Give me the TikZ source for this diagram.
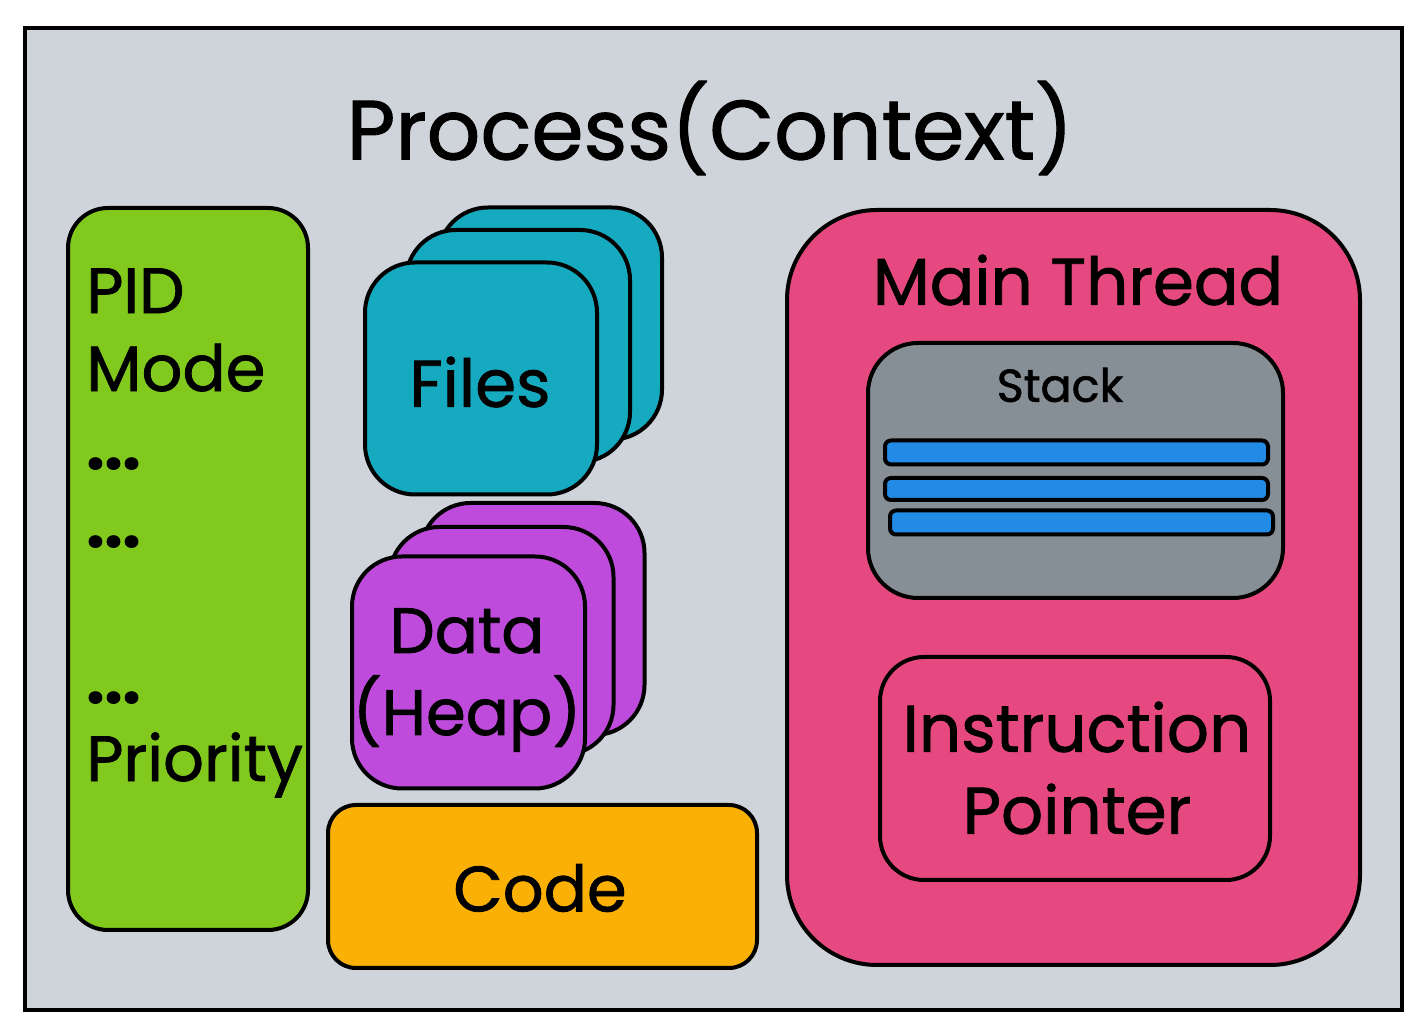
\documentclass[tikz,border=0pt]{standalone}
\usepackage{fontspec}
\setmainfont{Poppins}[FakeBold=1.2]
\usetikzlibrary{positioning}
\definecolor{procgray}{HTML}{CED4DA}
\definecolor{pidgreen}{HTML}{82C91E}
\definecolor{filesteal}{HTML}{15AABF}
\definecolor{heappurple}{HTML}{BE4BDB}
\definecolor{codeorange}{HTML}{FAB005}
\definecolor{threadpink}{HTML}{E64980}
\definecolor{stackgray}{HTML}{868E96}
\definecolor{barblue}{HTML}{228BE6}

\begin{document}
\begin{tikzpicture}[
  x=0.5pt, y=-0.5pt,
  box/.style={draw, line width=2pt, inner sep=0pt, rounded corners=22pt},
  card/.style={box, rounded corners=25pt, minimum width=112pt, minimum height=116pt},
  bar/.style={box, rounded corners=3pt, fill=barblue, minimum width=191.5pt, minimum height=12pt},
  lbl/.style={font=\fontsize{30}{41}\selectfont, align=center}
]
  \useasboundingbox (0,0) rectangle (1426,1036);

  % outer process frame
  \node[draw, line width=2pt, fill=procgray, minimum width=688.5pt, minimum height=491pt] (proc) at (713.5,519) {};
  \node[font=\fontsize{42}{50}\selectfont] (title) at (710,128) {Process(Context)};

  % process attributes
  \node[box, fill=pidgreen, minimum width=120pt, minimum height=361pt, rounded corners=20pt] (attrs) at (188,569) {};
  \node[lbl, font=\fontsize{32}{39}\selectfont, align=left, anchor=north west, inner sep=0pt] (attrtxt) at (86,268)
    {PID\\Mode\\{\bfseries...}\\{\bfseries...}\\\mbox{}\\{\bfseries...}\\Priority};

  % files
  \node[card, fill=filesteal] (files3) at (550,323.5) {};
  \node[card, fill=filesteal] (files2) at (518,346) {};
  \node[card, fill=filesteal, minimum width=116pt] (files1) at (481,378.5) {};
  \node[lbl, font=\fontsize{33}{41}\selectfont] (filestxt) at (480,382) {Files};

  % data / heap
  \node[card, fill=heappurple] (data3) at (532.5,619) {};
  \node[card, fill=heappurple, minimum height=114pt] (data2) at (501.5,641) {};
  \node[card, fill=heappurple, minimum width=116.5pt] (data1) at (468.5,672.5) {};
  \node[lbl, font=\fontsize{32}{41}\selectfont] (datatxt) at (467,680) {Data\\(Heap)};

  % code
  \node[box, fill=codeorange, rounded corners=14pt, minimum width=214.5pt, minimum height=81.5pt] (code) at (542.5,886.5) {};
  \node[lbl, font=\fontsize{32}{41}\selectfont] (codetxt) at (540,888) {Code};

  % main thread
  \node[box, fill=threadpink, rounded corners=45pt, minimum width=286.5pt, minimum height=377.5pt] (thread) at (1073.5,587.5) {};
  \node[lbl, font=\fontsize{33}{41}\selectfont] (threadtxt) at (1078,280) {Main Thread};

  \node[box, fill=stackgray, rounded corners=25pt, minimum width=207.5pt, minimum height=127.5pt] (stack) at (1075.5,470.5) {};
  \node[lbl, font=\fontsize{23}{30}\selectfont] (stacktxt) at (1060,385) {Stack};
  \node[bar] (bar1) at (1076.5,452.5) {};
  \node[bar, minimum height=11pt] (bar2) at (1076.5,489) {};
  \node[bar] (bar3) at (1081.5,522.5) {};

  \node[box, rounded corners=22pt, minimum width=195pt, minimum height=111.5pt] (ip) at (1075,768.5) {};
  \node[lbl, font=\fontsize{33}{41}\selectfont] (iptxt) at (1077,768) {Instruction\\Pointer};
\end{tikzpicture}
\end{document}
